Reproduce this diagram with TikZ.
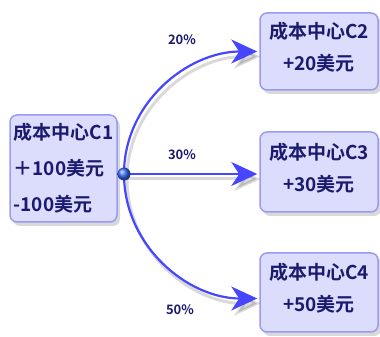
\documentclass[tikz,border=0pt]{standalone}
\usepackage{fontspec}
\newfontfamily\cjk[BoldFont={* Bold}]{Noto Sans CJK SC}
\usetikzlibrary{arrows.meta, positioning, shadows}
\definecolor{boxfill}{HTML}{DCDCFC}
\definecolor{boxline}{HTML}{9A9AF2}
\definecolor{ink}{HTML}{1A1A6E}
\definecolor{flow}{HTML}{4646FF}

\begin{document}
\begin{tikzpicture}[x=1pt, y=1pt,
    centre/.style={draw=boxline, line width=1.5pt, fill=boxfill, rounded corners=7pt,
        text=ink, font=\cjk\bfseries\fontsize{19}{32}\selectfont, align=center, inner sep=0pt,
        text depth=10pt,
        drop shadow={opacity=0.3, shadow xshift=3pt, shadow yshift=-4pt}},
    share/.style={draw=flow, line width=2.2pt, shorten >=2pt,
        -{Stealth[length=26pt, width=24pt, inset=8pt]}},
    sharesh/.style={share, draw=black, line width=3pt, opacity=0.15,
        transform canvas={xshift=3pt, yshift=-5pt}},
    pct/.style={text=ink, font=\cjk\bfseries\fontsize{13}{15}\selectfont}]
\useasboundingbox (0,0) rectangle (380,337);

% cost centres
\node[centre, minimum width=107pt, minimum height=107pt, align=left, text depth=3pt,
      font=\cjk\bfseries\fontsize{19}{36}\selectfont] (c1) at (63.5,168.5)
    {成本中心C1\\＋100美元\\-100美元};
\node[centre, minimum width=118pt, minimum height=77pt] (c2) at (319,285.5)
    {成本中心C2\\+20美元};
\node[centre, minimum width=118pt, minimum height=80pt] (c3) at (319,165)
    {成本中心C3\\+30美元};
\node[centre, minimum width=118pt, minimum height=79pt] (c4) at (319,44.5)
    {成本中心C4\\+50美元};

% split point
\coordinate (split) at (124,163);

% shares (shadow first)
\draw[sharesh] (split) to[out=90, in=180] (c2.west);
\draw[sharesh] (split) -- (split -| c3.west);
\draw[sharesh] (split) to[out=-90, in=180] ([yshift=-6pt]c4.west);
\draw[share] (split) to[out=90, in=180] (c2.west);
\draw[share] (split) -- (split -| c3.west);
\draw[share] (split) to[out=-90, in=180] ([yshift=-6pt]c4.west);

\shade[ball color=flow!80!cyan] (split) circle (6.5pt);

% percentages
\node[pct] (p2) at (182,297) {20\%};
\node[pct] (p3) at (182,182) {30\%};
\node[pct] (p4) at (180,27) {50\%};
\end{tikzpicture}
\end{document}
